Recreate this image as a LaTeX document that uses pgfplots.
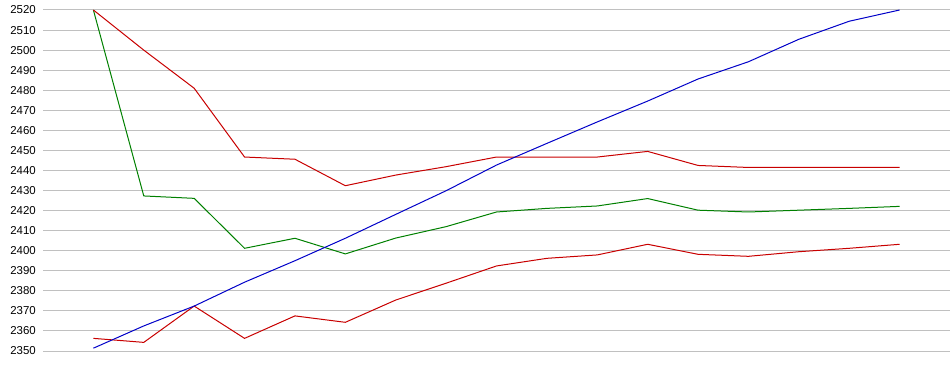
\documentclass[border=0pt]{standalone}
\usepackage{pgfplots}
\pgfplotsset{compat=1.18}
\usepackage{fontspec}
\setmainfont{Liberation Sans}
\definecolor{cred}{RGB}{200,0,0}
\definecolor{cgreen}{RGB}{0,128,0}
\definecolor{cblue}{RGB}{0,0,200}
\definecolor{cgrid}{RGB}{192,192,192}
\begin{document}
\begin{tikzpicture}
\useasboundingbox (-43bp,-24bp) rectangle (907bp,351bp);
\begin{axis}[
  at={(0,0)}, anchor=south west,
  scale only axis, width=907bp, height=341bp,
  xmin=-1, xmax=17, ymin=2350, ymax=2520,
  ytick={2350,2360,...,2520},
  xtick=\empty,
  ymajorgrids, grid style={cgrid, line width=1bp},
  axis line style={draw=none},
  major tick length=0pt,
  yticklabel style={font=\fontsize{11.5}{12}\selectfont, inner sep=0pt, xshift=-7bp},
  /pgf/number format/assume math mode=true,
  /pgf/number format/1000 sep={},
  every axis plot/.append style={line width=1bp, mark=none},
]
\addplot[cred] coordinates {(0,2356.3)(1,2354.3)(2,2372.4)(3,2356.3)(4,2367.5)(5,2364.3)(6,2375.4)(7,2383.8)(8,2392.4)(9,2396.2)(10,2397.9)(11,2403.2)(12,2398.2)(13,2397.2)(14,2399.5)(15,2401.2)(16,2403.2)};
\addplot[cgreen] coordinates {(0,2520)(1,2427.3)(2,2426.1)(3,2401.2)(4,2406.2)(5,2398.4)(6,2406.3)(7,2412)(8,2419.3)(9,2421.1)(10,2422.3)(11,2426)(12,2420.2)(13,2419.3)(14,2420.2)(15,2421.1)(16,2422.1)};
\addplot[cred] coordinates {(0,2520)(1,2500)(2,2481)(3,2446.7)(4,2445.6)(5,2432.4)(6,2437.7)(7,2441.9)(8,2446.7)(9,2446.7)(10,2446.7)(11,2449.5)(12,2442.5)(13,2441.5)(14,2441.5)(15,2441.5)(16,2441.5)};
\addplot[cblue] coordinates {(0,2351.4)(1,2362.5)(2,2372.4)(3,2384.3)(4,2395)(5,2406.2)(6,2418.1)(7,2429.9)(8,2442.7)(9,2453.5)(10,2464.2)(11,2474.6)(12,2485.6)(13,2494.2)(14,2505.4)(15,2514.4)(16,2520)};
\end{axis}
\end{tikzpicture}
\end{document}
